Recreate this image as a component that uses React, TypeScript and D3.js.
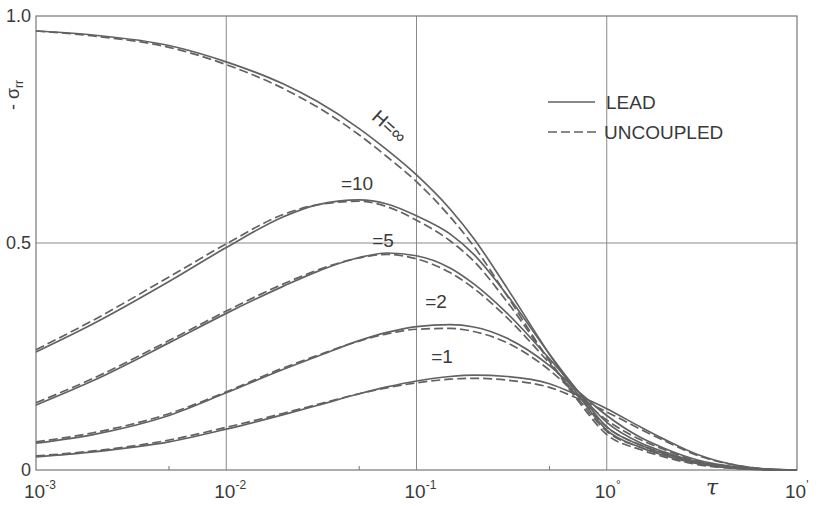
import React from 'react';
import * as d3 from 'd3';

// dimensionless time (log axis)
const tau = [0.001, 0.002, 0.005, 0.01, 0.02, 0.03, 0.05, 0.07, 0.1, 0.15, 0.2, 0.3, 0.5, 0.7, 1, 1.5, 2, 3, 5, 7, 10];

// -sigma_rr, LEAD (solid)
const leadHinf = [0.967, 0.958, 0.935, 0.899, 0.85, 0.812, 0.752, 0.705, 0.65, 0.575, 0.51, 0.4, 0.255, 0.168, 0.088, 0.05, 0.032, 0.014, 0.003, 0.0008, 0];
const leadH10 = [0.26, 0.322, 0.415, 0.49, 0.558, 0.584, 0.595, 0.586, 0.56, 0.52, 0.475, 0.385, 0.255, 0.175, 0.095, 0.055, 0.036, 0.016, 0.004, 0.001, 0];
const leadH5 = [0.143, 0.197, 0.28, 0.345, 0.405, 0.437, 0.468, 0.478, 0.472, 0.445, 0.41, 0.345, 0.245, 0.175, 0.105, 0.06, 0.04, 0.018, 0.005, 0.001, 0];
const leadH2 = [0.059, 0.078, 0.12, 0.17, 0.222, 0.25, 0.285, 0.303, 0.316, 0.32, 0.315, 0.29, 0.23, 0.175, 0.12, 0.072, 0.048, 0.022, 0.006, 0.0015, 0];
const leadH1 = [0.029, 0.04, 0.062, 0.09, 0.122, 0.142, 0.168, 0.183, 0.196, 0.206, 0.209, 0.206, 0.19, 0.165, 0.135, 0.095, 0.068, 0.034, 0.009, 0.002, 0];

// -sigma_rr, UNCOUPLED (dashed)
const uncHinf = [0.967, 0.956, 0.931, 0.893, 0.84, 0.8, 0.738, 0.69, 0.635, 0.558, 0.493, 0.383, 0.24, 0.155, 0.078, 0.045, 0.029, 0.012, 0.003, 0.0008, 0];
const uncH10 = [0.265, 0.33, 0.425, 0.498, 0.563, 0.584, 0.592, 0.58, 0.55, 0.505, 0.46, 0.37, 0.24, 0.16, 0.085, 0.05, 0.034, 0.015, 0.004, 0.001, 0];
const uncH5 = [0.148, 0.202, 0.285, 0.35, 0.41, 0.44, 0.467, 0.475, 0.465, 0.435, 0.4, 0.335, 0.235, 0.165, 0.095, 0.055, 0.037, 0.017, 0.005, 0.001, 0];
const uncH2 = [0.062, 0.082, 0.124, 0.172, 0.225, 0.252, 0.284, 0.3, 0.31, 0.312, 0.305, 0.28, 0.22, 0.165, 0.11, 0.067, 0.045, 0.02, 0.006, 0.0015, 0];
const uncH1 = [0.031, 0.042, 0.066, 0.094, 0.125, 0.144, 0.168, 0.181, 0.192, 0.2, 0.202, 0.198, 0.182, 0.158, 0.128, 0.09, 0.065, 0.032, 0.009, 0.002, 0];

const leadSeries = [leadHinf, leadH10, leadH5, leadH2, leadH1];
const uncSeries = [uncHinf, uncH10, uncH5, uncH2, uncH1];

const xTickExp = ['-3', '-2', '-1', '°', "'"];
const xTickVals = [0.001, 0.01, 0.1, 1, 10];
const minorTicks = [0.005, 0.05, 0.5, 5];
const yTickVals = [0, 0.5, 1];
const yTickLabels = ['0', '0.5', '1.0'];
const gridX = [0.01, 0.1, 1];
const gridY = [0.5];

const W = 820;
const H = 506;
const font = 'Liberation Sans, Arial, sans-serif';
const ink = '#3a3a3a';
const lineCol = '#626262';

export default function App() {
  const x = d3.scaleLog().domain([0.001, 10]).range([36, 797]);
  const y = d3.scaleLinear().domain([0, 1]).range([470, 16]);

  const line = (vals: number[]) =>
    d3
      .line<number>()
      .x((_, i) => x(tau[i]))
      .y((d) => y(d))
      .curve(d3.curveMonotoneX)(vals) || '';

  return (
    <svg width={W} height={H} style={{ position: 'absolute', left: 0, top: 0, background: '#fff' }}>
      {/* grid */}
      {gridX.map((g) => (
        <line key={'gx' + g} x1={x(g)} x2={x(g)} y1={y(0)} y2={y(1)} stroke="#8a8a8a" strokeWidth={1} />
      ))}
      {gridY.map((g) => (
        <line key={'gy' + g} x1={x(0.001)} x2={x(10)} y1={y(g)} y2={y(g)} stroke="#8a8a8a" strokeWidth={1} />
      ))}
      {/* frame */}
      <rect x={x(0.001)} y={y(1)} width={x(10) - x(0.001)} height={y(0) - y(1)} fill="none" stroke="#777" strokeWidth={1.2} />
      {minorTicks.map((t) => (
        <line key={'mt' + t} x1={x(t)} x2={x(t)} y1={y(0)} y2={y(0) - 4} stroke="#777" strokeWidth={1} />
      ))}

      {/* curves */}
      {uncSeries.map((s, i) => (
        <path key={'u' + i} d={line(s)} fill="none" stroke={lineCol} strokeWidth={1.7} strokeDasharray="9,4" />
      ))}
      {leadSeries.map((s, i) => (
        <path key={'l' + i} d={line(s)} fill="none" stroke={lineCol} strokeWidth={1.7} />
      ))}

      {/* curve labels */}
      <g fontFamily={font} fill={ink} fontSize={19}>
        <text x={389} y={133} textAnchor="middle" transform="rotate(42,389,127)">H=∞</text>
        <text x={357} y={190} textAnchor="middle">=10</text>
        <text x={383} y={247} textAnchor="middle">=5</text>
        <text x={436} y={308} textAnchor="middle">=2</text>
        <text x={442} y={363} textAnchor="middle">=1</text>
      </g>

      {/* legend */}
      <line x1={548} x2={595} y1={102} y2={102} stroke={lineCol} strokeWidth={1.7} />
      <line x1={548} x2={597} y1={132} y2={132} stroke={lineCol} strokeWidth={1.7} strokeDasharray="9,4" />
      <g fontFamily={font} fill={ink} fontSize={19}>
        <text x={606} y={109}>LEAD</text>
        <text x={604} y={139}>UNCOUPLED</text>
      </g>

      {/* y ticks */}
      <g fontFamily={font} fill={ink} fontSize={18} textAnchor="end">
        {yTickVals.map((v, i) => (
          <text key={'yt' + v} x={31} y={y(v) + 6}>
            {yTickLabels[i]}
          </text>
        ))}
      </g>

      {/* x ticks */}
      <g fontFamily={font} fill={ink} fontSize={19}>
        {xTickVals.map((v, i) => (
          <text key={'xt' + v} x={x(v) - 12} y={498}>
            10
            <tspan fontSize={12} dy={-9}>
              {xTickExp[i]}
            </tspan>
          </text>
        ))}
        <text x={712} y={495} textAnchor="middle" fontStyle="italic" fontFamily="DejaVu Serif, serif" fontSize={22}>
          τ
        </text>
      </g>

      {/* y axis label */}
      <text
        x={0}
        y={0}
        transform="translate(19,95) rotate(-90)"
        fontFamily={font}
        fill={ink}
        fontSize={18}
        textAnchor="middle"
      >
        - σ<tspan fontSize={12} dy={4}>rr</tspan>
      </text>
    </svg>
  );
}
